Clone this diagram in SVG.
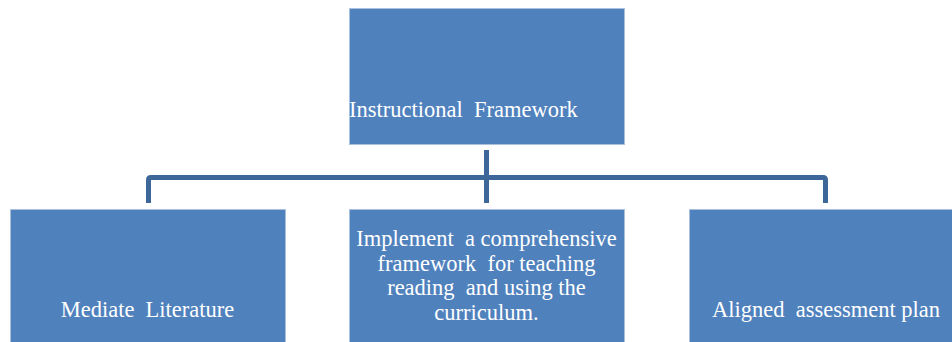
<svg xmlns="http://www.w3.org/2000/svg" width="952" height="342" viewBox="0 0 952 342">
  <style>
    .box { fill: #4f81bd; stroke: #a9c0df; stroke-width: 1; }
    .lbl { fill: #ffffff; white-space: pre; }
    .link { fill: none; stroke: #3d6699; stroke-width: 5; stroke-linejoin: round; }
  </style>
  <rect width="952" height="342" fill="#ffffff"/>

  <g id="connectors">
    <path class="link" d="M486.5,150 V203"/>
    <path class="link" d="M148.5,203 V180 Q148.5,177.5 151,177.5 H823 Q825.5,177.5 825.5,180 V203"/>
  </g>

  <g font-family="Liberation Serif, Times New Roman, serif" font-size="22.5">
    <g id="node-framework">
      <rect class="box" x="349.5" y="8.5" width="275" height="136"/>
      <text class="lbl" x="349" y="117">Instructional  Framework</text>
    </g>

    <g id="node-mediate">
      <rect class="box" x="10.5" y="209.5" width="275" height="140"/>
      <text class="lbl" x="147.5" y="317" text-anchor="middle">Mediate  Literature</text>
    </g>

    <g id="node-implement">
      <rect class="box" x="349.5" y="209.5" width="275" height="140"/>
      <text class="lbl" text-anchor="middle"><tspan x="486.5" y="246">Implement  a comprehensive</tspan><tspan x="486.5" y="271">framework  for teaching</tspan><tspan x="486.5" y="295">reading  and using the</tspan><tspan x="486.5" y="320">curriculum.</tspan></text>
    </g>

    <g id="node-assessment">
      <rect class="box" x="689.5" y="209.5" width="275" height="140"/>
      <text class="lbl" x="826" y="317" text-anchor="middle">Aligned  assessment plan</text>
    </g>
  </g>
</svg>
